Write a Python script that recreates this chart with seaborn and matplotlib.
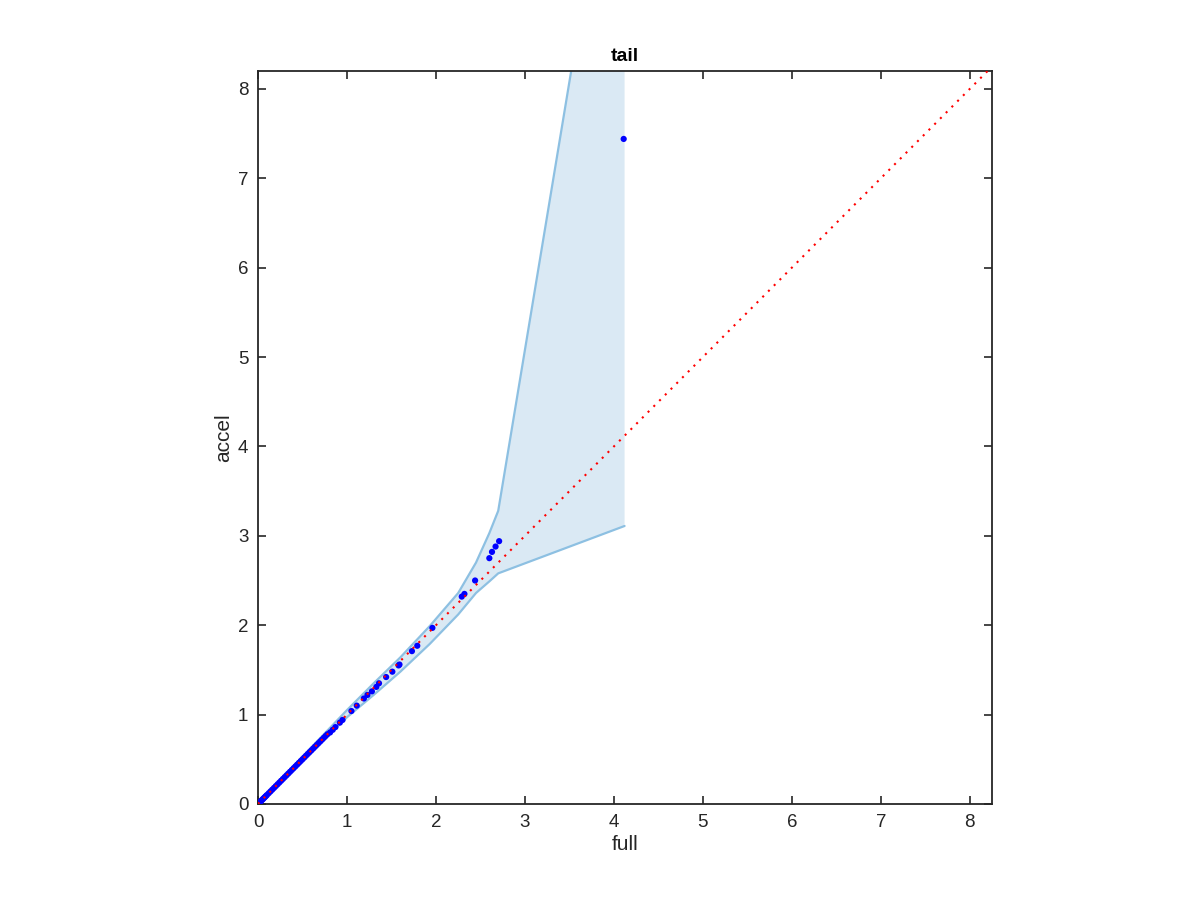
import matplotlib
matplotlib.use("Agg")
import matplotlib.pyplot as plt
import seaborn as sns
import pandas as pd

# ---- data ----
full_vals = [0.00, 0.01, 0.02, 0.03, 0.04, 0.05, 0.06, 0.07, 0.08, 0.09, 0.10, 0.12, 0.14,
             0.16, 0.18, 0.20, 0.22, 0.24, 0.26, 0.28, 0.30, 0.32, 0.34, 0.36, 0.38, 0.40,
             0.42, 0.44, 0.46, 0.48, 0.50, 0.52, 0.54, 0.56, 0.58, 0.60, 0.62, 0.64, 0.66,
             0.68, 0.70, 0.72, 0.74, 0.76, 0.78, 0.81, 0.84, 0.87, 0.92, 0.95, 1.05, 1.11,
             1.19, 1.23, 1.28, 1.33, 1.36, 1.44, 1.51, 1.58, 1.59, 1.73, 1.79, 1.96, 2.29,
             2.32, 2.44, 2.60, 2.63, 2.67, 2.71, 4.11]
accel_vals = [0.00, 0.01, 0.02, 0.03, 0.04, 0.05, 0.06, 0.07, 0.08, 0.09, 0.10, 0.12, 0.14,
              0.16, 0.18, 0.20, 0.22, 0.24, 0.26, 0.28, 0.30, 0.32, 0.34, 0.36, 0.38, 0.40,
              0.42, 0.44, 0.46, 0.48, 0.50, 0.52, 0.54, 0.56, 0.58, 0.60, 0.62, 0.64, 0.66,
              0.68, 0.70, 0.72, 0.74, 0.76, 0.78, 0.80, 0.83, 0.86, 0.91, 0.94, 1.04, 1.10,
              1.18, 1.22, 1.26, 1.31, 1.35, 1.42, 1.48, 1.55, 1.56, 1.71, 1.77, 1.97, 2.32,
              2.35, 2.50, 2.75, 2.82, 2.88, 2.94, 7.44]

band_x = [0.0, 0.5, 1.0, 1.3, 1.6, 1.93, 2.25, 2.45, 2.6, 2.7, 4.12]
band_hi = [0.0, 0.53, 1.05, 1.35, 1.64, 1.99, 2.36, 2.70, 3.03, 3.28, 11.8]
band_lo = [0.0, 0.48, 0.97, 1.22, 1.48, 1.79, 2.12, 2.36, 2.49, 2.58, 3.11]

ref_x = [0.0, 8.2]
ref_y = [0.0, 8.2]

x_ticks = [0, 1, 2, 3, 4, 5, 6, 7, 8]
y_ticks = [0, 1, 2, 3, 4, 5, 6, 7, 8]

title_text = "tail"
xlabel_text = "full"
ylabel_text = "accel"

# ---- plotting ----
sns.set_theme(style="white")
plt.rcParams["font.family"] = ["Liberation Sans", "DejaVu Sans"]

fig = plt.figure(figsize=(12, 9), dpi=100)
ax = fig.add_axes([0.215, 0.1067, 0.6117, 0.8144])

band_df = pd.DataFrame({"x": band_x, "lo": band_lo, "hi": band_hi})
ax.fill_between(band_df["x"], band_df["lo"], band_df["hi"],
                color="#dae9f4", linewidth=0, zorder=1)
sns.lineplot(data=band_df, x="x", y="hi", ax=ax, color="#8dc0e2",
             linewidth=1.6, sort=False, zorder=2)
sns.lineplot(data=band_df, x="x", y="lo", ax=ax, color="#8dc0e2",
             linewidth=1.6, sort=False, zorder=2)

pts = pd.DataFrame({"full": full_vals, "accel": accel_vals})
sns.scatterplot(data=pts, x="full", y="accel", ax=ax, color="#0000ff",
                s=20, edgecolor="none", linewidth=0, zorder=3)

ref = pd.DataFrame({"x": ref_x, "y": ref_y})
sns.lineplot(data=ref, x="x", y="y", ax=ax, color="#ff0000",
             linewidth=1.5, linestyle=(0, (1, 2.9)), zorder=4)

ax.set_xlim(0, 8.25)
ax.set_ylim(0, 8.2)
ax.set_xticks(x_ticks)
ax.set_yticks(y_ticks)
ax.set_xticklabels([str(t) for t in x_ticks])
ax.set_yticklabels([str(t) for t in y_ticks])

for side in ["top", "right", "bottom", "left"]:
    ax.spines[side].set_visible(True)
    ax.spines[side].set_color("#262626")
    ax.spines[side].set_linewidth(1.3)

ax.tick_params(axis="both", which="both", direction="in", length=6, width=1.2,
               colors="#262626", labelsize=13.5, top=True, right=True,
               bottom=True, left=True, pad=7)
for lbl in ax.get_xticklabels() + ax.get_yticklabels():
    lbl.set_color("#262626")

ax.set_xlabel(xlabel_text, fontsize=15, color="#262626", labelpad=3)
ax.set_ylabel(ylabel_text, fontsize=15, color="#262626", labelpad=3)
ax.set_title(title_text, fontsize=14, fontweight="bold", color="black", pad=7)
ax.grid(False)

fig.savefig("out.png", dpi=100)
